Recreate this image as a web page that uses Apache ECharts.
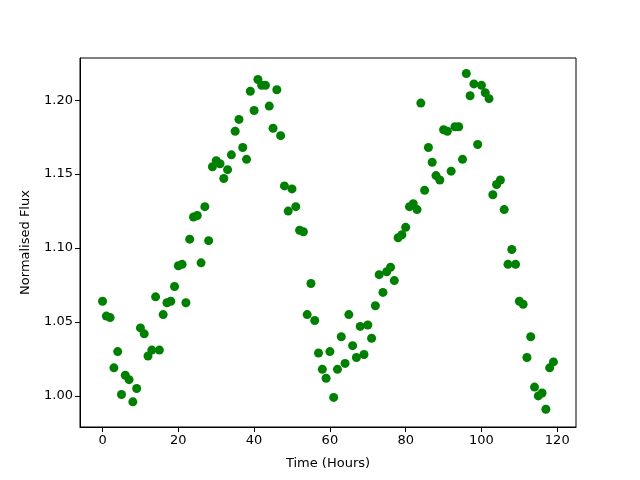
<!DOCTYPE html>
<html>
<head>
<meta charset="utf-8">
<script src="https://cdn.jsdelivr.net/npm/echarts@6/dist/echarts.min.js"></script>
<style>
  html, body { margin: 0; padding: 0; background: #fff; }
  #chart { width: 640px; height: 480px; }
</style>
</head>
<body>
<div id="chart"></div>
<script>
// hours 0..119
const hours = Array.from({ length: 120 }, (_, i) => i);
const flux = [
    1.064, 1.054, 1.053, 1.019, 1.030, 1.001, 1.014, 1.011, 0.996, 1.005,
    1.046, 1.042, 1.027, 1.031, 1.067, 1.031, 1.055, 1.063, 1.064, 1.074,
    1.088, 1.089, 1.063, 1.106, 1.121, 1.122, 1.090, 1.128, 1.105, 1.155,
    1.159, 1.157, 1.147, 1.153, 1.163, 1.179, 1.187, 1.168, 1.160, 1.206,
    1.193, 1.214, 1.210, 1.210, 1.196, 1.181, 1.207, 1.176, 1.142, 1.125,
    1.140, 1.128, 1.112, 1.111, 1.055, 1.076, 1.051, 1.029, 1.018, 1.012,
    1.030, 0.999, 1.018, 1.040, 1.022, 1.055, 1.034, 1.026, 1.047, 1.028,
    1.048, 1.039, 1.061, 1.082, 1.070, 1.084, 1.087, 1.078, 1.107, 1.109,
    1.114, 1.128, 1.130, 1.126, 1.198, 1.139, 1.168, 1.158, 1.149, 1.146,
    1.180, 1.179, 1.152, 1.182, 1.182, 1.160, 1.218, 1.203, 1.211, 1.170,
    1.210, 1.205, 1.201, 1.136, 1.143, 1.146, 1.126, 1.089, 1.099, 1.089,
    1.064, 1.062, 1.026, 1.040, 1.006, 1.000, 1.002, 0.991, 1.019, 1.023
];

const chart = echarts.init(document.getElementById('chart'));
const axisText = { color: '#000', fontFamily: 'DejaVu Sans', fontSize: 13 };

chart.setOption({
    animation: false,
    grid: {
        left: 80, right: 64, top: 58, bottom: 53,
        show: true, borderColor: '#000', borderWidth: 1
    },
    xAxis: {
        type: 'value',
        min: -5.95,
        max: 124.95,
        splitNumber: 6,
        name: 'Time (Hours)',
        nameLocation: 'middle',
        nameGap: 30,
        nameTextStyle: axisText,
        axisLine: { show: true, onZero: false, lineStyle: { color: '#000' } },
        axisTick: { show: true, inside: false, length: 5, lineStyle: { color: '#000' } },
        axisLabel: Object.assign({ margin: 7, showMinLabel: false, showMaxLabel: false }, axisText),
        splitLine: { show: false }
    },
    yAxis: {
        type: 'value',
        min: 0.979,
        max: 1.2285,
        splitNumber: 5,
        name: 'Normalised Flux',
        nameLocation: 'middle',
        nameGap: 48,
        nameTextStyle: axisText,
        axisLine: { show: true, onZero: false, lineStyle: { color: '#000' } },
        axisTick: { show: true, inside: false, length: 5, lineStyle: { color: '#000' } },
        axisLabel: Object.assign({
            margin: 7, showMinLabel: false, showMaxLabel: false,
            formatter: v => v.toFixed(2)
        }, axisText),
        splitLine: { show: false }
    },
    series: [{
        type: 'scatter',
        symbol: 'circle',
        symbolSize: 9,
        itemStyle: { color: '#008000', opacity: 1 },
        data: hours.map((h, i) => [h, flux[i]])
    }]
});
</script>
</body>
</html>
